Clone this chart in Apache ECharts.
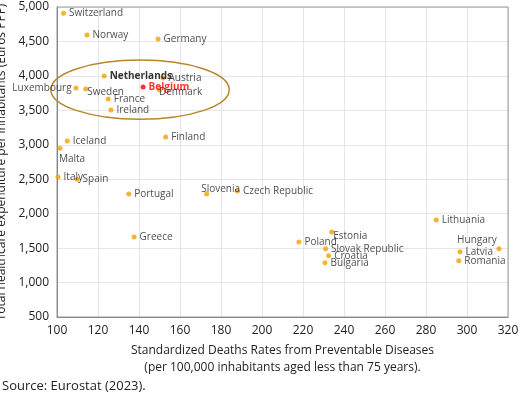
<!DOCTYPE html><html><head><meta charset="utf-8"><script src="https://cdn.jsdelivr.net/npm/echarts@6/dist/echarts.min.js"></script></head><body style="margin:0;background:#fff"><div id="c" style="width:520px;height:406px"></div><script>
const countries=["Switzerland","Norway","Germany","Netherlands","Austria","Luxembourg","Sweden","Belgium","Denmark","France","Ireland","Iceland","Malta","Finland","Italy","Spain","Portugal","Slovenia","Czech Republic","Greece","Lithuania","Estonia","Poland","Slovak Republic","Croatia","Bulgaria","Hungary","Latvia","Romania"];
const deaths=[103.2,114.6,149.3,123,151.7,109.3,114,142,150,125,126.3,105,101.5,153,100.5,109.8,135,173,188,137.6,285,234,218,231,232.5,230.7,315.6,296.6,296];
const spend=[4910,4594,4536,3999,3970,3824,3810,3840,3795,3665,3505,3055,2950,3113,2533,2500,2286,2286,2330,1662,1907,1733,1590,1490,1388,1287,1490,1447,1316];
const xTicks=[100,120,140,160,180,200,220,240,260,280,300,320];
const yTicks=[500,1000,1500,2000,2500,3000,3500,4000,4500,5000];
const special={"Luxembourg":{position:'left',distance:2},"Hungary":{position:'top',offset:[-22,2]},"Malta":{position:'bottom',offset:[12,0]},"Netherlands":{fontWeight:'bold',color:'#000'},"Belgium":{fontWeight:'bold',color:'#ff0000'},"Sweden":{offset:[-4,3]},"Denmark":{offset:[-6,2]},"Slovenia":{position:'top',offset:[14,6]},"Estonia":{offset:[-4,4]},"Latvia":{offset:[0,0]}};
const data=countries.map((n,i)=>{const d={name:n,value:[deaths[i],spend[i]]};const s=special[n];if(s){d.label=Object.assign({},s);}if(n==='Belgium')d.itemStyle={color:'#ff0000'};return d;});
const chart=echarts.init(document.getElementById('c'));
const fmt=v=>v.toLocaleString('en-US');
chart.setOption({animation:false,
grid:{left:57,right:12,top:7,bottom:89,outerBoundsMode:'none',containLabel:false},
xAxis:{type:'value',min:100,max:320,interval:20,axisLine:{show:true,onZero:false,lineStyle:{color:'#888'}},axisTick:{show:false},splitLine:{lineStyle:{color:'#e6e6e6'}},axisLabel:{color:'#222',fontSize:12,fontFamily:'Open Sans'},
name:'Standardized Deaths Rates from Preventable Diseases\n(per 100,000 inhabitants aged less than 75 years).',nameLocation:'middle',nameGap:24,nameTextStyle:{color:'#222',fontSize:12,fontFamily:'Open Sans',lineHeight:17,verticalAlign:'top'}},
yAxis:{type:'value',min:500,max:5000,interval:500,axisLine:{show:true,lineStyle:{color:'#888'}},axisTick:{show:false},splitLine:{lineStyle:{color:'#e6e6e6'}},axisLabel:{color:'#222',fontSize:12,fontFamily:'Open Sans',formatter:fmt},
name:'Total healthcare expenditure per inhabitants (Euros PPP)',nameLocation:'middle',nameGap:42,nameTextStyle:{color:'#222',fontSize:12,fontFamily:'Open Sans'}},
series:[{type:'scatter',symbolSize:5,itemStyle:{color:'#f5a000'},data:data,label:{show:true,formatter:'{b}',position:'right',distance:3,fontSize:10,color:'#222',fontFamily:'Open Sans'}}]
});
const c=chart.convertToPixel({gridIndex:0},[140.5,3800]);
const e=chart.convertToPixel({gridIndex:0},[184,3800]);
const t=chart.convertToPixel({gridIndex:0},[140.5,4230]);
chart.setOption({graphic:[{type:'ellipse',shape:{cx:c[0],cy:c[1],rx:e[0]-c[0],ry:c[1]-t[1]},style:{fill:'none',stroke:'#b8862b',lineWidth:1.5}},
{type:'text',left:2,top:380,style:{text:'Source: Eurostat (2023).',fontSize:13,fill:'#222',fontFamily:'Open Sans'}},
{type:'rect',shape:{x:57,y:7,width:451,height:310},style:{fill:'none',stroke:'#999',lineWidth:1}}]});
</script></body></html>
